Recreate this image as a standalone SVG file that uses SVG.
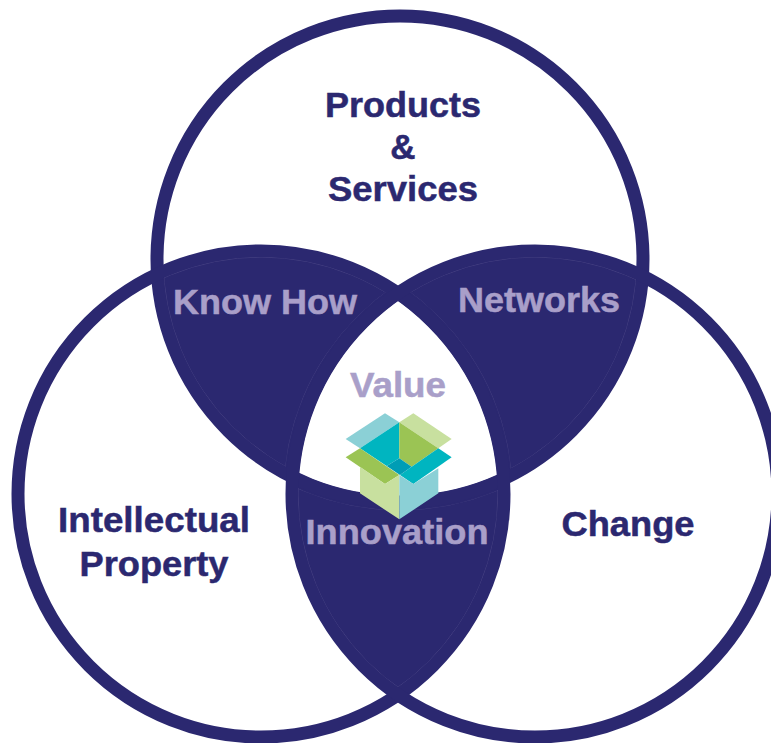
<svg xmlns="http://www.w3.org/2000/svg" width="771" height="743" viewBox="0 0 771 743">
<style>
text{font-family:"Liberation Sans",Arial,sans-serif;font-weight:700;font-size:35px;text-anchor:middle;stroke-width:.5}
.d{fill:#2b2870}.l{fill:#a99fc9}
text.d{stroke:#2b2870}text.l{stroke:#a99fc9}
.ring{fill:none;stroke:#2b2870;stroke-width:13}
.f{fill:none;stroke:#4a4585;stroke-width:.8}
</style>
<defs>
<circle id="T" cx="400" cy="259" r="243"/><circle id="L" cx="261" cy="494" r="243"/><circle id="R" cx="535" cy="494" r="243"/>
<clipPath id="cT"><use href="#T"/></clipPath><clipPath id="cL"><use href="#L"/></clipPath><clipPath id="cR"><use href="#R"/></clipPath>
<clipPath id="iT"><circle cx="400" cy="259" r="237"/></clipPath><clipPath id="iL"><circle cx="261" cy="494" r="237"/></clipPath><clipPath id="iR"><circle cx="535" cy="494" r="237"/></clipPath>
<clipPath id="oT"><path clip-rule="evenodd" d="M-9-9H780V760H-9ZM149 259a251 251 0 1 0 502 0a251 251 0 1 0-502 0Z"/></clipPath>
<clipPath id="oL"><path clip-rule="evenodd" d="M-9-9H780V760H-9ZM10 494a251 251 0 1 0 502 0a251 251 0 1 0-502 0Z"/></clipPath>
<clipPath id="oR"><path clip-rule="evenodd" d="M-9-9H780V760H-9ZM284 494a251 251 0 1 0 502 0a251 251 0 1 0-502 0Z"/></clipPath>
<g id="fa"><circle cx="400" cy="259" r="237"/><circle cx="261" cy="494" r="237"/><circle cx="535" cy="494" r="237"/><circle cx="400" cy="259" r="251"/><circle cx="261" cy="494" r="251"/><circle cx="535" cy="494" r="251"/></g>
</defs>
<rect width="771" height="743" fill="#fff"/>
<g id="overlaps">
<g clip-path="url(#cT)"><use href="#L" class="d"/><use href="#R" class="d"/></g>
<g clip-path="url(#cL)"><use href="#R" class="d"/></g>
<g clip-path="url(#iT)"><g clip-path="url(#iL)"><circle cx="535" cy="494" r="237" fill="#fff"/></g></g>
</g>
<g id="circles"><use href="#T" class="ring"/><use href="#L" class="ring"/><use href="#R" class="ring"/></g>
<g id="inner-lines">
<g clip-path="url(#iT)"><g clip-path="url(#iL)"><g clip-path="url(#oR)"><use href="#fa" class="f"/></g></g></g>
<g clip-path="url(#iT)"><g clip-path="url(#iR)"><g clip-path="url(#oL)"><use href="#fa" class="f"/></g></g></g>
<g clip-path="url(#iL)"><g clip-path="url(#iR)"><g clip-path="url(#oT)"><use href="#fa" class="f"/></g></g></g>
</g>
<g id="box" transform="translate(280 360) scale(.3333)">
<polygon points="197,237 315,160 358,187 240,265" fill="#8bd0d6"/>
<polygon points="358,187 400,160 515,237 475,265" fill="#c8e09f"/>
<polygon points="240,265 358,187 358,295 320,318" fill="#00b5c0"/>
<polygon points="358,187 475,265 395,320 358,295" fill="#9bc454"/>
<polygon points="475,265 515,292 400,372 360,345 395,320" fill="#00b5c0"/>
<polygon points="197,292 240,265 358,345 315,372" fill="#9bc454"/>
<polygon points="320,318 358,295 395,320 360,345" fill="#009db5"/>
<polygon points="240,320 315,372 358,345 358,478 240,400" fill="#c8e09f"/>
<polygon points="358,345 400,372 475,325 475,400 358,478" fill="#8bd0d6"/>
</g>
<g id="products"><text class="d" x="403" y="117" textLength="156" lengthAdjust="spacingAndGlyphs">Products</text><text class="d" x="403" y="159">&amp;</text><text class="d" x="403" y="201" textLength="150" lengthAdjust="spacingAndGlyphs">Services</text></g>
<g id="knowhow"><text class="l" x="265" y="314" textLength="184" lengthAdjust="spacingAndGlyphs">Know How</text></g>
<g id="networks"><text class="l" x="539" y="312" textLength="162" lengthAdjust="spacingAndGlyphs">Networks</text></g>
<g id="value"><text class="l" x="398" y="397" textLength="96" lengthAdjust="spacingAndGlyphs">Value</text></g>
<g id="innovation"><text class="l" x="397" y="544" textLength="183" lengthAdjust="spacingAndGlyphs">Innovation</text></g>
<g id="ip"><text class="d" x="154" y="532" textLength="192" lengthAdjust="spacingAndGlyphs">Intellectual</text><text class="d" x="154" y="576" textLength="149" lengthAdjust="spacingAndGlyphs">Property</text></g>
<g id="change"><text class="d" x="628" y="536" textLength="133" lengthAdjust="spacingAndGlyphs">Change</text></g>
</svg>
